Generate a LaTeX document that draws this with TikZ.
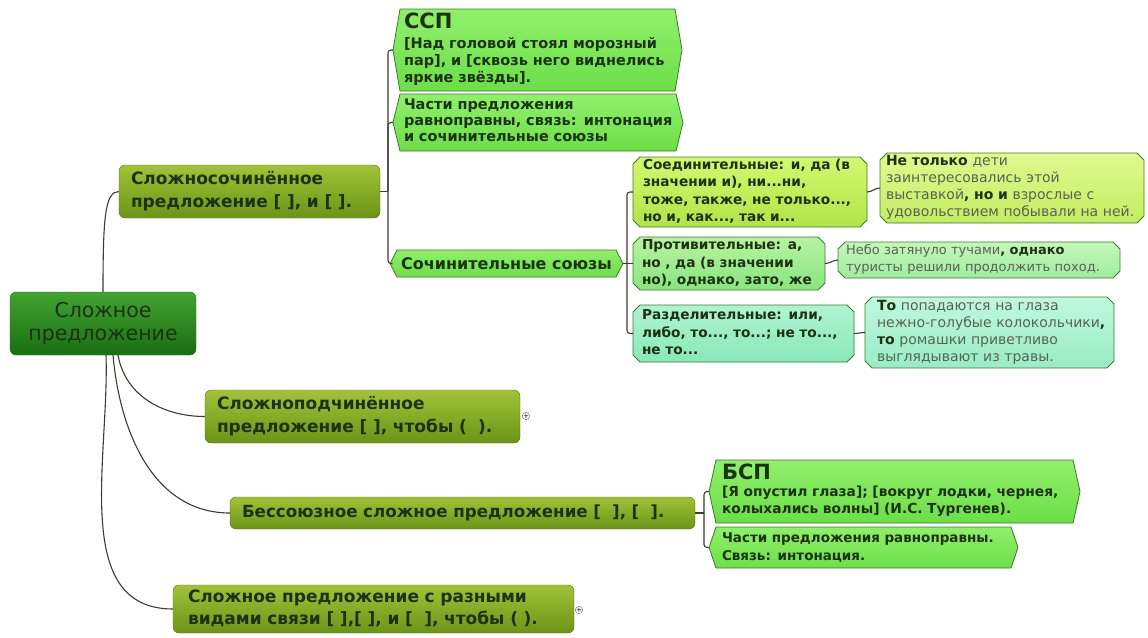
\documentclass[tikz,border=0pt]{standalone}
\usepackage{fontspec}
\setmainfont{DejaVu Sans}
\usetikzlibrary{backgrounds}

\definecolor{linkgray}{HTML}{3C3C30}
\definecolor{txtdark}{HTML}{1E3212}
\definecolor{exgray}{HTML}{5A6352}
\definecolor{roottop}{HTML}{42A232}
\definecolor{rootbot}{HTML}{1A6E12}
\definecolor{rootline}{HTML}{2A6A1A}
\definecolor{olivetop}{HTML}{A2C238}
\definecolor{olivebot}{HTML}{6C9418}
\definecolor{oliveline}{HTML}{546F14}
\definecolor{hextop}{HTML}{90F06C}
\definecolor{hexbot}{HTML}{6CDE48}
\definecolor{boxline}{HTML}{3E7A2A}
\definecolor{soedtop}{HTML}{D4F870}
\definecolor{soedbot}{HTML}{B0E448}
\definecolor{exyeltop}{HTML}{E0FA90}
\definecolor{exyelbot}{HTML}{C2EC62}
\definecolor{protivtop}{HTML}{B8F4A0}
\definecolor{protivbot}{HTML}{88E480}
\definecolor{exgrntop}{HTML}{C4F8BA}
\definecolor{exgrnbot}{HTML}{A0ECA0}
\definecolor{razdtop}{HTML}{B0F4D2}
\definecolor{razdbot}{HTML}{88E8B8}
\definecolor{exmintop}{HTML}{C0F8DE}
\definecolor{exminbot}{HTML}{98ECC6}

\newcommand\keyw[1]{{\bfseries\color{txtdark}#1}}
\newcommand\rows[1]{\begin{tabular}{@{}l@{}}#1\end{tabular}}
\newcommand\hexshape[2]{%
  \draw[#2] ([xshift=7pt]#1.north west) -- ([xshift=-7pt]#1.north east) -- (#1.east)
    -- ([xshift=-7pt]#1.south east) -- ([xshift=7pt]#1.south west) -- (#1.west) -- cycle;}
\newcommand\chamshape[2]{%
  \draw[#2] ([xshift=7pt]#1.north west) -- ([xshift=-7pt]#1.north east) -- ([yshift=-7pt]#1.north east)
    -- ([yshift=7pt]#1.south east) -- ([xshift=-7pt]#1.south east) -- ([xshift=7pt]#1.south west)
    -- ([yshift=7pt]#1.south west) -- ([yshift=-7pt]#1.north west) -- cycle;}

\tikzset{
  link/.style={draw=linkgray, line width=1.1pt, rounded corners=3pt},
  rootbox/.style={draw=rootline, rounded corners=6pt, top color=roottop, bottom color=rootbot,
    font=\fontsize{20.5}{23}\selectfont, text=txtdark, align=center, outer sep=0pt},
  olivebox/.style={draw=oliveline, rounded corners=6pt, top color=olivetop, bottom color=olivebot,
    font=\fontsize{17}{22.5}\selectfont\bfseries, text=txtdark, align=left,
    inner xsep=12pt, inner ysep=0pt, outer sep=0pt},
  textbox/.style={font=\fontsize{14.5}{16.5}\selectfont\bfseries, text=txtdark, align=left,
    inner xsep=11pt, inner ysep=0pt, outer sep=0pt},
  unionbox/.style={font=\fontsize{13.7}{17.5}\selectfont\bfseries, text=txtdark, align=left,
    inner xsep=9pt, inner ysep=0pt, outer sep=0pt},
  exbox/.style={font=\fontsize{14}{17}\selectfont, text=exgray, align=left,
    inner xsep=10pt, inner ysep=0pt, outer sep=0pt},
  hexfill/.style={draw=boxline, line width=0.8pt, top color=hextop, bottom color=hexbot},
  chamfill/.style 2 args={draw=boxline, line width=0.8pt, top color=#1, bottom color=#2},
  plusmark/.style={circle, draw=gray!80!black, fill=white, inner sep=0pt, minimum size=7pt,
    font=\fontsize{7}{7}\selectfont, text=black},
}

\begin{document}
\begin{tikzpicture}[x=1pt,y=1pt]
\useasboundingbox (0,0) rectangle (1148,-637);

\node[rootbox, minimum width=186pt, minimum height=63pt] (root) at (103,-323.5) {Сложное\\предложение};

% first branch
\node[olivebox, text width=237pt, minimum height=53pt] (sss) at (249.5,-191.5)
  {\rows{Сложносочинённое\\предложение [ ], и [ ].}};
\node[textbox, font=\fontsize{14.5}{17}\selectfont\bfseries, text width=267pt, minimum height=82pt] (ssp) at (537.5,-50)
  {\rows{{\fontsize{21}{23}\selectfont ССП}\\[3pt]{}[Над головой стоял морозный\\пар], и [сквозь него виднелись\\яркие звёзды].}};
\node[textbox, font=\fontsize{14.5}{16}\selectfont\bfseries, text width=268pt, minimum height=57pt] (sspparts) at (538,-122.5)
  {\rows{Части предложения\\равноправны, связь: интонация\\и сочинительные союзы}};
\node[textbox, font=\fontsize{16}{18}\selectfont\bfseries, align=center, minimum width=223pt, minimum height=27pt] (sojuzy) at (506.5,-263.5) {Сочинительные союзы};

\node[unionbox, inner xsep=10pt, text width=214pt, minimum height=70pt] (soed) at (750,-192)
  {\rows{Соединительные: и, да (в\\значении и), ни...ни,\\тоже, также, не только...,\\но и, как..., так и...}};
\node[exbox, inner xsep=6pt, text width=252pt, minimum height=70pt] (netolko) at (1012,-188)
  {\rows{\keyw{Не только} дети\\заинтересовались этой\\выставкой\keyw{, но и} взрослые с\\удовольствием побывали на ней.}};
\node[unionbox, text width=174pt, minimum height=53pt] (protiv) at (729,-263.5)
  {\rows{Противительные: а,\\но , да (в значении\\но), однако, зато, же}};
\node[exbox, font=\fontsize{13}{17}\selectfont, inner xsep=8pt, text width=266pt, minimum height=36pt] (nebo) at (979,-260)
  {\rows{Небо затянуло тучами\keyw{, однако}\\туристы решили продолжить поход.}};
\node[unionbox, text width=203pt, minimum height=57pt] (razdel) at (743.5,-333.5)
  {\rows{Разделительные: или,\\либо, то..., то...; не то...,\\не то...}};
\node[exbox, inner xsep=12pt, text width=225pt, minimum height=71pt] (topop) at (989.5,-332.5)
  {\rows{\keyw{То} попадаются на глаза\\нежно-голубые колокольчики\keyw{,}\\\keyw{то} ромашки приветливо\\выглядывают из травы.}};

% other branches
\node[olivebox, inner xsep=12pt, text width=291pt, minimum height=53pt] (spp) at (362.5,-416.5)
  {\rows{Сложноподчинённое\\предложение [ ], чтобы (~~).}};
\node[plusmark] (sppplus) at (526,-416) {+};
\node[olivebox, font=\fontsize{16.7}{22}\selectfont\bfseries, inner xsep=12pt, text width=441pt, minimum height=32pt] (bspmain) at (462.5,-513)
  {\rows{Бессоюзное сложное предложение [~~], [~~].}};
\node[textbox, font=\fontsize{13.8}{17}\selectfont\bfseries, inner xsep=13pt, text width=345pt, minimum height=63pt] (bsp) at (894.5,-491.5)
  {\rows{{\fontsize{21}{23}\selectfont БСП}\\{}[Я опустил глаза]; [вокруг лодки, чернея,\\колыхались волны] (И.С. Тургенев).}};
\node[textbox, font=\fontsize{13.5}{18}\selectfont\bfseries, inner xsep=13pt, text width=283pt, minimum height=41pt] (bspparts) at (863.5,-547.5)
  {\rows{Части предложения равноправны.\\Связь: интонация.}};
\node[olivebox, inner xsep=15pt, text width=371pt, minimum height=48pt] (raznye) at (373.5,-609)
  {\rows{Сложное предложение с разными\\видами связи [ ],[ ], и [~~], чтобы ( ).}};
\node[plusmark] (raznyeplus) at (579,-610) {+};

\begin{scope}[on background layer]
  \hexshape{ssp}{hexfill}
  \hexshape{sspparts}{hexfill}
  \hexshape{sojuzy}{hexfill}
  \hexshape{bsp}{hexfill}
  \hexshape{bspparts}{hexfill}
  \chamshape{soed}{chamfill={soedtop}{soedbot}}
  \chamshape{netolko}{chamfill={exyeltop}{exyelbot}}
  \chamshape{protiv}{chamfill={protivtop}{protivbot}}
  \chamshape{nebo}{chamfill={exgrntop}{exgrnbot}}
  \chamshape{razdel}{chamfill={razdtop}{razdbot}}
  \chamshape{topop}{chamfill={exmintop}{exminbot}}

  \coordinate (j1) at (388,-191.5);
  \coordinate (j2) at (627,-263.5);
  \coordinate (j3) at (704,-513);
  \draw[link] (root.north) .. controls +(0,75) and +(-14,0) .. (sss.west);
  \draw[link] ([xshift=15pt]root.south) to[out=-80,in=180] (spp.west);
  \draw[link] ([xshift=10pt]root.south) to[out=-85,in=180] (bspmain.west);
  \draw[link] ([xshift=3pt]root.south) to[out=-88,in=180] (raznye.west);
  \draw[link] (sss.east) -- (j1);
  \draw[link] (ssp.west) -| (j1);
  \draw[link] (sspparts.west) -| (j1);
  \draw[link] (sojuzy.west) -| (j1);
  \draw[link] (sojuzy.east) -- (j2);
  \draw[link] (soed.west) -| (j2);
  \draw[link] (protiv.west) -- (j2);
  \draw[link] (razdel.west) -| (j2);
  \draw[link] (soed.east) to[out=0,in=180] (netolko.west);
  \draw[link] (protiv.east) to[out=0,in=180] (nebo.west);
  \draw[link] (razdel.east) to[out=0,in=180] (topop.west);
  \draw[link] (bspmain.east) -- (j3);
  \draw[link] (bsp.west) -| (j3);
  \draw[link] (bspparts.west) -| (j3);
\end{scope}
\end{tikzpicture}
\end{document}
